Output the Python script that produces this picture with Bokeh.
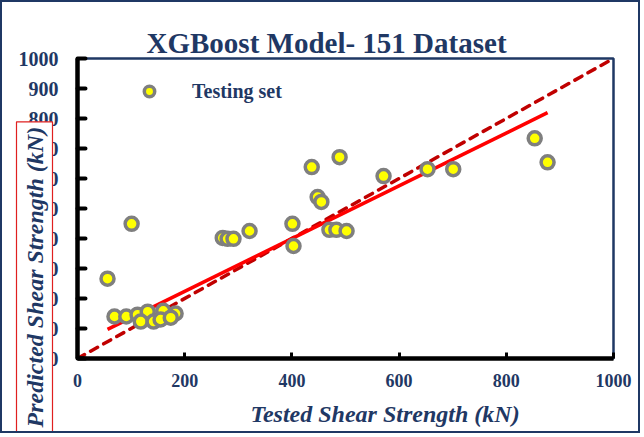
import numpy as np
from bokeh.plotting import figure
from bokeh.models import (Range1d, SingleIntervalTicker, Title, Legend, LegendItem,
                          ColumnDataSource)
from bokeh.embed import file_html
from bokeh.resources import INLINE

# ---- data ----
tested = [56, 101, 69, 91, 112, 131, 160, 183, 118, 142, 155, 174,
          271, 280, 291, 321, 401, 403, 437, 448, 455, 470, 483, 502,
          489, 571, 653, 701, 853, 877]
predicted = [266, 449, 140, 140, 146, 156, 159, 150, 123, 123, 130, 136,
             402, 399, 399, 425, 449, 375, 638, 538, 522, 429, 429, 425,
             671, 608, 631, 631, 734, 654]
fit_slope = 0.880
fit_intercept = 47.6
ideal = [0, 1000]
x_ticks_interval = 200
y_ticks_interval = 100

NAVY = "#1f3864"
FONT = "Liberation Serif"

W, H = 640, 433
p = figure(width=W, height=H, output_backend="svg", toolbar_location=None,
           x_range=Range1d(0, 1000), y_range=Range1d(0, 1000),
           min_border_left=75, min_border_right=29, min_border_top=56,
           min_border_bottom=76)
p.styles = {"border": "2px solid #1f3864"}
p.grid.visible = False
p.outline_line_color = NAVY
p.outline_line_width = 2.5
p.background_fill_color = "white"
p.border_fill_color = "white"

# title
p.title = Title(text="XGBoost Model- 151 Dataset", align="left", offset=69,
                standoff=0, text_font=FONT, text_font_style="bold",
                text_font_size="29px", text_color=NAVY)

# axes
p.xaxis.ticker = SingleIntervalTicker(interval=x_ticks_interval)
p.yaxis.ticker = SingleIntervalTicker(interval=y_ticks_interval)
for ax in (p.xaxis, p.yaxis):
    ax.axis_line_color = "black"
    ax.axis_line_width = 4.5
    ax.major_tick_line_color = "black"
    ax.major_tick_out = 0
    ax.minor_tick_line_color = None
    ax.major_label_text_font = FONT
    ax.major_label_text_font_style = "bold"
    ax.major_label_text_color = NAVY
p.xaxis.major_label_text_font_size = "18px"
p.yaxis.major_label_text_font_size = "20px"
p.xaxis.major_tick_in = 6
p.xaxis.major_tick_line_width = 3
p.yaxis.major_tick_in = 8
p.yaxis.major_tick_line_width = 4
p.yaxis.major_tick_line_cap = "round"
p.xaxis.major_label_standoff = 11
p.yaxis.major_label_standoff = 15

# axis titles
p.add_layout(Title(text="Tested Shear Strength (kN)", align="left", offset=173,
                   standoff=18, text_font=FONT, text_font_style="bold italic",
                   text_font_size="24px", text_color=NAVY), "below")
p.add_layout(Title(text="Predicted Shear Strength (kN)", align="left",
                   offset=-74, standoff=-74, text_font=FONT,
                   text_font_style="bold italic", text_font_size="24px",
                   text_color=NAVY, background_fill_color="white",
                   border_line_color="#e02020", border_line_width=1.2,
                   padding=5), "left")

# lines
p.line(ideal, ideal, line_color="#c00000", line_width=3.5, line_dash="8 7",
       line_cap="round")
fx = np.array([min(tested), max(tested)])
p.line(fx, fit_slope * fx + fit_intercept, line_color="#ff0000", line_width=3.5)

src = ColumnDataSource(dict(x=tested, y=predicted))
pts = p.scatter("x", "y", source=src, size=13, fill_color="#ffff00",
                line_color="#7f7f7f", line_width=3.5)

legend = Legend(items=[LegendItem(label="Testing set", renderers=[pts])],
                location=(59, 254), glyph_width=26, glyph_height=26,
                label_height=26, label_standoff=30, padding=0, margin=0,
                spacing=0, border_line_color=None, background_fill_alpha=0,
                label_text_font=FONT, label_text_font_style="bold",
                label_text_font_size="20px", label_text_color=NAVY)
p.add_layout(legend, "center")

open("out.html", "w").write(file_html(p, INLINE))
